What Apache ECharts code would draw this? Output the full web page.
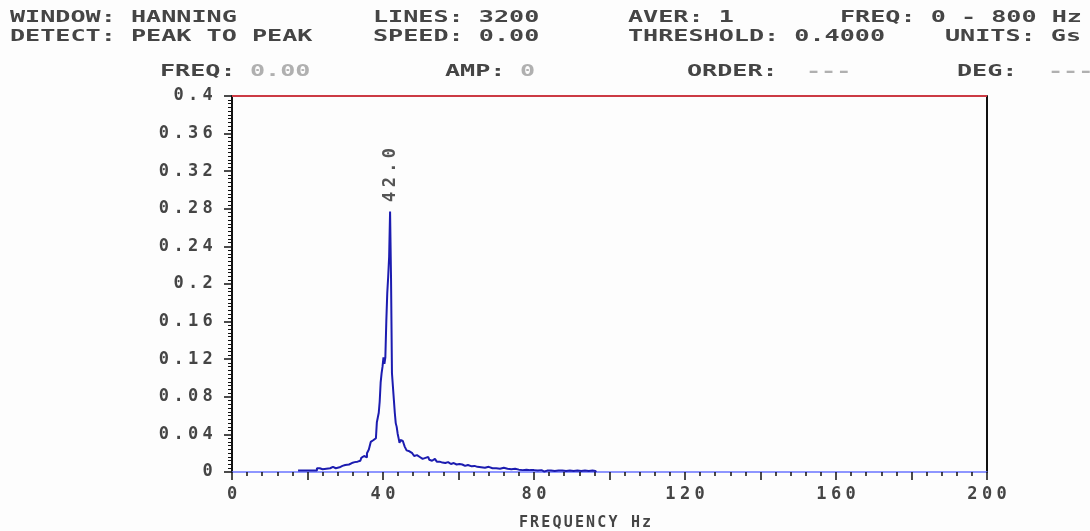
<!DOCTYPE html>
<html>
<head>
<meta charset="utf-8">
<script src="https://cdn.jsdelivr.net/npm/echarts@6/dist/echarts.min.js"></script>
<style>
html, body { margin: 0; padding: 0; background: #fdfdfd; }
#chart { width: 1090px; height: 531px; }
</style>
</head>
<body>
<div id="chart"></div>
<script>
// spectrum (Hz, Gs)
const freqHz = [
  17.5, 18, 19, 20, 21, 22, 23, 23.5, 24, 25, 26, 26.5, 27, 28, 29, 29.5,
  30, 31, 31.5, 32, 32.5, 33, 33.5, 34, 34.5, 35, 35.5, 36, 36.5, 37, 37.5,
  38, 38.25, 38.5, 38.75, 39, 39.25, 39.5, 39.75, 40, 40.25, 40.5, 40.75,
  41, 41.25, 41.5, 41.75, 42, 42.25, 42.5, 42.75, 43, 43.25, 43.5, 43.75,
  44, 44.25, 44.5, 44.75, 45, 45.5, 46, 46.5, 47, 47.5, 48, 48.5, 49, 49.5,
  50, 50.5, 51, 51.5, 52, 52.5, 53, 53.5, 54, 54.5, 55, 55.5, 56, 56.5, 57,
  57.5, 58, 58.5, 59, 60, 60.5, 61, 61.5, 62, 63, 64, 64.5, 65, 66, 67, 68,
  69, 70, 71, 72, 73, 74, 75, 76, 77, 78, 79, 80, 81, 82, 82.5, 83, 84, 85,
  86, 87, 88, 89, 90, 91, 92, 93, 94, 95, 96, 96.5
];
const ampGs = [
  0.0015, 0.0015, 0.0015, 0.0015, 0.0015, 0.0015, 0.004, 0.002, 0.003, 0.0035, 0.004, 0.0055, 0.004, 0.005, 0.0065, 0.0055,
  0.0075, 0.008, 0.0095, 0.009, 0.0105, 0.011, 0.013, 0.012, 0.015, 0.017, 0.0155, 0.020, 0.024, 0.032, 0.034,
  0.034, 0.036, 0.053, 0.058, 0.063, 0.075, 0.095, 0.105, 0.112, 0.122, 0.115, 0.122,
  0.160, 0.190, 0.208, 0.229, 0.277, 0.207, 0.105, 0.105, 0.077, 0.063, 0.052, 0.048,
  0.041, 0.036, 0.031, 0.034, 0.033, 0.031, 0.027, 0.023, 0.022, 0.020, 0.018, 0.017, 0.018, 0.016,
  0.015, 0.014, 0.015, 0.013, 0.016, 0.013, 0.012, 0.014, 0.012, 0.011, 0.011, 0.010, 0.011, 0.0095, 0.0105,
  0.009, 0.0085, 0.0095, 0.008, 0.0085, 0.007, 0.008, 0.0065, 0.0075, 0.006, 0.0065, 0.005, 0.0055, 0.005, 0.0045, 0.0055,
  0.004, 0.004, 0.0035, 0.0045, 0.0035, 0.003, 0.0035, 0.0025, 0.002, 0.0025, 0.002, 0.002, 0.0015, 0.002, 0.0005, 0.0015, 0.0015, 0.001,
  0.0015, 0.0015, 0.001, 0.0015, 0.001, 0.0015, 0.001, 0.0015, 0.001, 0.0015, 0.001, 0
];
const peakFreq = 42.0;
const peakAmp = 0.277;
const threshold = 0.4;

const headerRow1 = ['WINDOW: HANNING', 'LINES: 3200', 'AVER: 1', 'FREQ: 0 - 800 Hz'];
const headerRow2 = ['DETECT: PEAK TO PEAK', 'SPEED: 0.00', 'THRESHOLD: 0.4000', 'UNITS: Gs'];
const cursorNames = ['FREQ:', 'AMP:', 'ORDER:', 'DEG:'];
const cursorValues = ['0.00', '0', '---', '---'];

const MONO = '"DejaVu Sans Mono", "Liberation Mono", monospace';
const INK = '#454545';

// put every char in a fixed cell so the text gets the wide terminal spacing
function cells(s) {
  return s.split('').map(c => '{c|' + c + '}').join('');
}

function headText(str, x, y, color) {
  return {
    type: 'text', x: x, y: y, scaleX: 1.57,
    style: {
      text: str, fill: color, fontFamily: MONO, fontSize: 16, fontWeight: 'bold',
      verticalAlign: 'middle'
    }
  };
}

const graphics = [
  headText(headerRow1[0], 10, 18, INK),
  headText(headerRow1[1], 373, 18, INK),
  headText(headerRow1[2], 628, 18, INK),
  headText(headerRow1[3], 840, 18, INK),
  headText(headerRow2[0], 10, 37, INK),
  headText(headerRow2[1], 373, 37, INK),
  headText(headerRow2[2], 628, 37, INK),
  headText(headerRow2[3], 945, 37, INK),
  headText(cursorNames[0], 160, 72, INK),
  headText(cursorValues[0], 250, 72, '#b0b0b0'),
  headText(cursorNames[1], 445, 72, INK),
  headText(cursorValues[1], 520, 72, '#b0b0b0'),
  headText(cursorNames[2], 687, 72, INK),
  headText(cursorValues[2], 806, 72, '#b0b0b0'),
  headText(cursorNames[3], 957, 72, INK),
  headText(cursorValues[3], 1048, 72, '#b0b0b0')
];

const cellRich = {
  c: { width: 14.6, align: 'center', fontFamily: MONO, fontSize: 17, fontWeight: 'bold', color: INK }
};

let myChart = echarts.init(document.getElementById('chart'));
let option = {
  backgroundColor: '#fdfdfd',
  animation: false,
  grid: { left: 232, right: 103, top: 96, bottom: 59, outerBoundsMode: 'none', containLabel: false },
  graphic: graphics,
  xAxis: {
    type: 'value',
    min: 0,
    max: 200,
    interval: 20,
    name: cells('FREQUENCY Hz'),
    nameLocation: 'middle',
    nameGap: 44,
    nameTextStyle: {
      padding: [0, 49, 0, 0],
      rich: { c: { width: 11.2, align: 'center', fontFamily: MONO, fontSize: 15, fontWeight: 'bold', color: INK } }
    },
    axisLine: { show: true, onZero: false, lineStyle: { color: '#6a74ff', width: 1.5 } },
    axisTick: { show: true, length: 8, lineStyle: { color: '#111', width: 1.5 } },
    minorTick: { show: true, splitNumber: 5, length: 4, lineStyle: { color: '#111', width: 1.5 } },
    axisLabel: {
      margin: 14,
      formatter: v => (v % 40 === 0 ? cells(String(v)) : ''),
      rich: cellRich
    },
    splitLine: { show: false }
  },
  yAxis: [
    {
      type: 'value',
      min: 0,
      max: 0.4,
      interval: 0.04,
      axisLine: { show: true, lineStyle: { color: '#111', width: 2 } },
      axisTick: { show: true, length: 8, lineStyle: { color: '#111', width: 1.5 } },
      minorTick: { show: true, splitNumber: 10, length: 4, lineStyle: { color: '#111', width: 1 } },
      axisLabel: {
        margin: 17,
        formatter: v => cells(String(+v.toFixed(2))),
        rich: cellRich
      },
      splitLine: { show: false }
    },
    {
      type: 'value',
      position: 'right',
      min: 0,
      max: 0.4,
      axisLine: { show: true, lineStyle: { color: '#111', width: 2 } },
      axisTick: { show: false },
      axisLabel: { show: false },
      splitLine: { show: false }
    }
  ],
  series: [
    {
      name: 'spectrum',
      type: 'line',
      step: 'middle',
      showSymbol: false,
      data: freqHz.map((f, i) => [f, ampGs[i]]),
      lineStyle: { color: '#1c1cb0', width: 2 },
      itemStyle: { color: '#1c1cb0' },
      markLine: {
        silent: true,
        symbol: 'none',
        label: { show: false },
        lineStyle: { color: '#cc3a44', width: 2, type: 'solid' },
        data: [{ yAxis: threshold }]
      },
      markPoint: {
        symbol: 'circle',
        symbolSize: 1,
        itemStyle: { color: 'rgba(0,0,0,0)' },
        label: {
          show: true,
          position: 'top',
          distance: 7,
          rotate: 90,
          align: 'left',
          verticalAlign: 'middle',
          formatter: () => cells(peakFreq.toFixed(1)),
          rich: { c: { width: 14.6, align: 'center', fontFamily: MONO, fontSize: 17, fontWeight: 'bold', color: '#555' } }
        },
        data: [{ coord: [peakFreq, peakAmp] }]
      }
    }
  ]
};
myChart.setOption(option, true);
window.addEventListener('resize', function () {
  myChart.resize();
});
</script>
</body>
</html>
